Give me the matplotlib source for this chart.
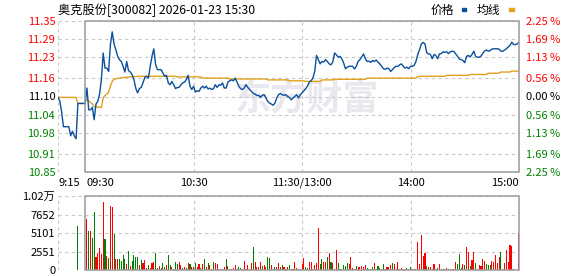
import matplotlib.pyplot as plt
from matplotlib.patches import Rectangle

plt.rcParams['font.family'] = ['Noto Sans CJK SC', 'DejaVu Sans']

# ---- chart texts / scales ----
title = '奥克股份[300082] 2026-01-23 15:30'
prev_close = 11.10
price_ticks = [11.35, 11.29, 11.23, 11.16, 11.10, 11.04, 10.98, 10.91, 10.85]
pct_labels = ['2.25 %', '1.69 %', '1.13 %', '0.56 %', '0.00 %', '0.56 %', '1.13 %', '1.69 %', '2.25 %']
vol_ticks = [0, 2551, 5101, 7652, 10204]
vol_labels = ['0', '2551', '5101', '7652', '1.02万']
time_pos = [-15, 0, 60, 120, 180, 240]
time_labels = ['9:15', '09:30', '10:30', '11:30/13:00', '14:00', '15:00']

# ---- call auction 9:15-9:30 (minutes before open) ----
pre_min = list(range(-15, 1))
pre_price = [11.097, 11.085, 11.05, 11.00, 11.00, 11.00, 11.00, 10.97, 10.985, 10.97,
             10.96, 11.077, 11.077, 11.077, 11.077, 11.077]
pre_avg = [11.097] * 11 + [11.077] * 5
pre_vol_min = -4
pre_vol = 6070

# ---- intraday price, one value per minute 09:30 .. 15:00 ----
price = [
    11.077, 11.128, 11.056, 11.056, 11.064, 11.023, 11.075, 11.084, 11.108, 11.156,
    11.244, 11.194, 11.194, 11.183, 11.272, 11.314, 11.274, 11.255, 11.233, 11.222,
    11.216, 11.200, 11.181, 11.216, 11.186, 11.181, 11.172, 11.156, 11.128, 11.112,
    11.126, 11.130, 11.145, 11.163, 11.167, 11.161, 11.200, 11.233, 11.258, 11.205,
    11.189, 11.189, 11.189, 11.178, 11.167, 11.170, 11.145, 11.139, 11.150, 11.139,
    11.126, 11.130, 11.130, 11.139, 11.145, 11.148, 11.156, 11.170, 11.134, 11.123,
    11.134, 11.115, 11.119, 11.117, 11.128, 11.134, 11.128, 11.134, 11.125, 11.128,
    11.123, 11.126, 11.139, 11.130, 11.139, 11.137, 11.145, 11.128, 11.128, 11.148,
    11.152, 11.155, 11.152, 11.161, 11.148, 11.134, 11.126, 11.123, 11.128, 11.139,
    11.130, 11.123, 11.117, 11.110, 11.108, 11.103, 11.104, 11.097, 11.104, 11.106,
    11.095, 11.084, 11.078, 11.075, 11.071, 11.078, 11.095, 11.106, 11.110, 11.106,
    11.104, 11.106, 11.100, 11.097, 11.089, 11.095, 11.100, 11.106, 11.095, 11.106,
    11.112, 11.119, 11.126, 11.134, 11.148, 11.152, 11.161, 11.183, 11.236, 11.222,
    11.208, 11.216, 11.214, 11.222, 11.216, 11.208, 11.205, 11.214, 11.244, 11.238,
    11.230, 11.233, 11.225, 11.211, 11.192, 11.197, 11.200, 11.200, 11.200, 11.191,
    11.200, 11.216, 11.222, 11.231, 11.241, 11.225, 11.216, 11.217, 11.213, 11.219,
    11.216, 11.221, 11.214, 11.208, 11.200, 11.192, 11.190, 11.194, 11.192, 11.183,
    11.189, 11.196, 11.200, 11.200, 11.205, 11.208, 11.200, 11.194, 11.197, 11.192,
    11.200, 11.200, 11.203, 11.216, 11.239, 11.255, 11.274, 11.279, 11.274, 11.244,
    11.241, 11.239, 11.225, 11.239, 11.236, 11.225, 11.241, 11.242, 11.248, 11.246,
    11.248, 11.242, 11.248, 11.250, 11.249, 11.241, 11.233, 11.224, 11.222, 11.219,
    11.212, 11.233, 11.236, 11.231, 11.239, 11.250, 11.233, 11.230, 11.230, 11.234,
    11.243, 11.251, 11.254, 11.250, 11.252, 11.257, 11.258, 11.258, 11.258, 11.257,
    11.250, 11.250, 11.254, 11.258, 11.264, 11.269, 11.280, 11.272, 11.272, 11.274,
    11.280,
]

# average price line (break points)
avg_min = [0, 2, 4, 5, 9, 10, 11, 12, 13, 14, 15, 16, 18, 20, 25, 30, 50, 51, 64, 65,
           79, 80, 100, 101, 112, 113, 121, 122, 130, 131, 137, 138, 155, 156, 183, 184,
           186, 199, 200, 212, 213, 222, 223, 229, 230, 235, 236, 240]
avg_val = [11.089, 11.086, 11.075, 11.066, 11.064, 11.095, 11.104, 11.108, 11.115, 11.134,
           11.150, 11.157, 11.160, 11.162, 11.165, 11.167, 11.167, 11.165, 11.165, 11.161,
           11.161, 11.158, 11.158, 11.155, 11.155, 11.152, 11.152, 11.150, 11.150, 11.155,
           11.155, 11.157, 11.157, 11.161, 11.161, 11.166, 11.167, 11.167, 11.170, 11.170,
           11.173, 11.173, 11.177, 11.177, 11.181, 11.181, 11.184, 11.184]

# ---- volume per minute (lots) and direction r=up g=down ----
vol = [
    0, 7030, 5380, 5380, 4460, 8000, 1840, 2390, 3030, 2200,
    9380, 4270, 1930, 1700, 8870, 8730, 5010, 1520, 1520, 1520,
    1300, 2070, 1520, 830, 2620, 550, 1290, 2070, 1750, 1750,
    690, 1380, 1010, 1380, 280, 690, 230, 920, 1100, 2390,
    230, 550, 230, 1010, 370, 690, 2070, 690, 370, 180,
    1100, 830, 1100, 690, 230, 370, 230, 970, 830, 460,
    370, 970, 370, 830, 230, 830, 1520, 370, 970, 640,
    180, 1100, 970, 830, 180, 180, 180, 460, 1520, 550,
    180, 180, 280, 690, 180, 370, 280, 180, 1240, 180,
    690, 180, 970, 3170, 1100, 370, 370, 1100, 550, 690,
    460, 1790, 1650, 690, 180, 370, 370, 970, 370, 640,
    460, 180, 370, 640, 180, 180, 1100, 230, 140, 180,
    830, 1650, 370, 230, 1100, 1100, 180, 640, 970, 5790,
    830, 1520, 1100, 1100, 1790, 2340, 1100, 970, 180, 2760,
    970, 180, 180, 690, 550, 970, 830, 1790, 280, 180,
    550, 370, 460, 550, 460, 640, 280, 180, 180, 370,
    970, 180, 550, 230, 180, 830, 180, 370, 370, 640,
    970, 830, 180, 1100, 180, 280, 90, 180, 280, 90,
    370, 180, 180, 90, 3810, 830, 4830, 1880, 2340, 500,
    370, 370, 180, 830, 180, 280, 830, 180, 180, 180,
    280, 180, 180, 180, 180, 1100, 830, 2200, 280, 830,
    690, 3170, 2480, 550, 1380, 2480, 970, 180, 640, 550,
    1520, 1240, 830, 690, 690, 1240, 1100, 2070, 970, 1790,
    2480, 180, 970, 2760, 1100, 3450, 3310, 180, 0, 0,
    5100,
]
vol_dir = ('grgrggrrrr' 'rgrgrrgrrg' 'gggrgrgggg' 'rgrrrgrrrg' 'grrggrggrg'
           'ggrrgrgrgr' 'rgrrgrgrgr' 'rgrrggrrgr' 'rrrrgggrrr' 'rgrgrrrrgr'
           'rggrrgrrrg' 'rrrggrrrgg' 'rrggrrrrrr' 'ggrrgrgrrr' 'ggrgggrrrr'
           'grrrrrgggg' 'rrggrgrrrr' 'grgrrrrrgr' 'grrrrrrrrg' 'rrrrrgrgrg'
           'rrrgrrgggr' 'grrgrrgrrr' 'rrgggrrrrr' 'grrrrrrgrr' 'r')

minutes = list(range(len(price)))

c_up, c_dn = '#ff0000', '#008000'
c_price, c_avg = '#0b4f9e', '#e0a21c'
c_grid, c_frame = '#c8c8c8', '#9a9a9a'

W, H = 578, 276
fig = plt.figure(figsize=(W / 100, H / 100), dpi=100)
fig.patch.set_facecolor('white')

ax1 = fig.add_axes([58 / W, 1 - 172 / H, 461 / W, 151 / H])
ax2 = fig.add_axes([58 / W, 1 - 270 / H, 461 / W, 74 / H])

dash = (0, (3, 3))
for ax in (ax1, ax2):
    ax.set_xlim(-15, 240)
    for s in ax.spines.values():
        s.set_visible(False)
    ax.tick_params(length=0)
    ax.set_xticks([])

# ---- price panel ----
lo, hi = price_ticks[-1], price_ticks[0]
ax1.set_ylim(lo, hi)
ax1.hlines(price_ticks, -15, 240, colors=c_grid, linestyles=dash, lw=0.8, zorder=1)
ax1.vlines([-15, 60, 120, 180], lo, hi, colors=c_grid, linestyles=dash, lw=0.8, zorder=1)
ax1.add_patch(Rectangle((0, lo), 240, hi - lo, fill=False, ec=c_frame, lw=1.1,
                        clip_on=False, zorder=5))
ax1.text(123, 11.093, '东方财富', fontsize=26, fontweight='bold', color='#e8e8ee',
         ha='center', va='center', zorder=0)

ax1.plot(pre_min, pre_avg, color=c_avg, lw=1.0, zorder=3)
ax1.plot(pre_min, pre_price, color=c_price, lw=1.0, zorder=4)
ax1.plot(avg_min, avg_val, color=c_avg, lw=1.0, zorder=3)
ax1.plot(minutes, price, color=c_price, lw=1.0, zorder=4)


def lab_color(v):
    if v > prev_close + 1e-6:
        return c_up
    if v < prev_close - 1e-6:
        return c_dn
    return 'black'


ax1.set_yticks(price_ticks)
ax1.set_yticklabels(['%.2f' % v for v in price_ticks], fontsize=8)
ax1.tick_params(axis='y', pad=2)
for t, v in zip(ax1.get_yticklabels(), price_ticks):
    t.set_color(lab_color(v))

ax1r = ax1.twinx()
ax1r.set_ylim(lo, hi)
for s in ax1r.spines.values():
    s.set_visible(False)
ax1r.set_yticks(price_ticks)
ax1r.set_yticklabels(pct_labels, fontsize=8)
ax1r.tick_params(length=0, pad=5)
for t, v in zip(ax1r.get_yticklabels(), price_ticks):
    t.set_color(lab_color(v))

aligns = ['left', 'left', 'center', 'center', 'center', 'right']
for x, s, a in zip(time_pos, time_labels, aligns):
    ax1.text(x + (0.6 if s == '09:30' else 0), -0.073, s, transform=ax1.get_xaxis_transform(),
             ha=a, va='center', fontsize=8)

# ---- volume panel ----
ax2.set_ylim(0, vol_ticks[-1])
ax2.hlines(vol_ticks, -15, 240, colors=c_grid, linestyles=dash, lw=0.8, zorder=1)
ax2.vlines([-15, 60, 120, 180], 0, vol_ticks[-1], colors=c_grid, linestyles=dash, lw=0.8, zorder=1)
ax2.add_patch(Rectangle((0, 0), 240, vol_ticks[-1], fill=False, ec=c_frame, lw=1.1,
                        clip_on=False, zorder=5))
bar_colors = [c_up if d == 'r' else c_dn for d in vol_dir]
ax2.bar(minutes, vol, width=0.6, color=bar_colors, linewidth=0, zorder=3)
ax2.bar([pre_vol_min], [pre_vol], width=0.6, color=c_dn, linewidth=0, zorder=3)
ax2.set_yticks(vol_ticks)
ax2.set_yticklabels(vol_labels, fontsize=8)
ax2.tick_params(axis='y', pad=2)

# ---- title and legend ----
fig.text(58 / W, 1 - 10 / H, title, fontsize=8.8, va='center', ha='left')
fig.text(431 / W, 1 - 10 / H, '价格', fontsize=8.5, va='center', ha='left')
fig.text(477 / W, 1 - 10 / H, '均线', fontsize=8.5, va='center', ha='left')
fig.patches.append(Rectangle((462 / W, 1 - 11 / H), 4 / W, 3 / H, color=c_price,
                             transform=fig.transFigure, figure=fig))
fig.patches.append(Rectangle((509 / W, 1 - 11 / H), 5 / W, 3 / H, color=c_avg,
                             transform=fig.transFigure, figure=fig))

fig.savefig('out.png', dpi=100)
